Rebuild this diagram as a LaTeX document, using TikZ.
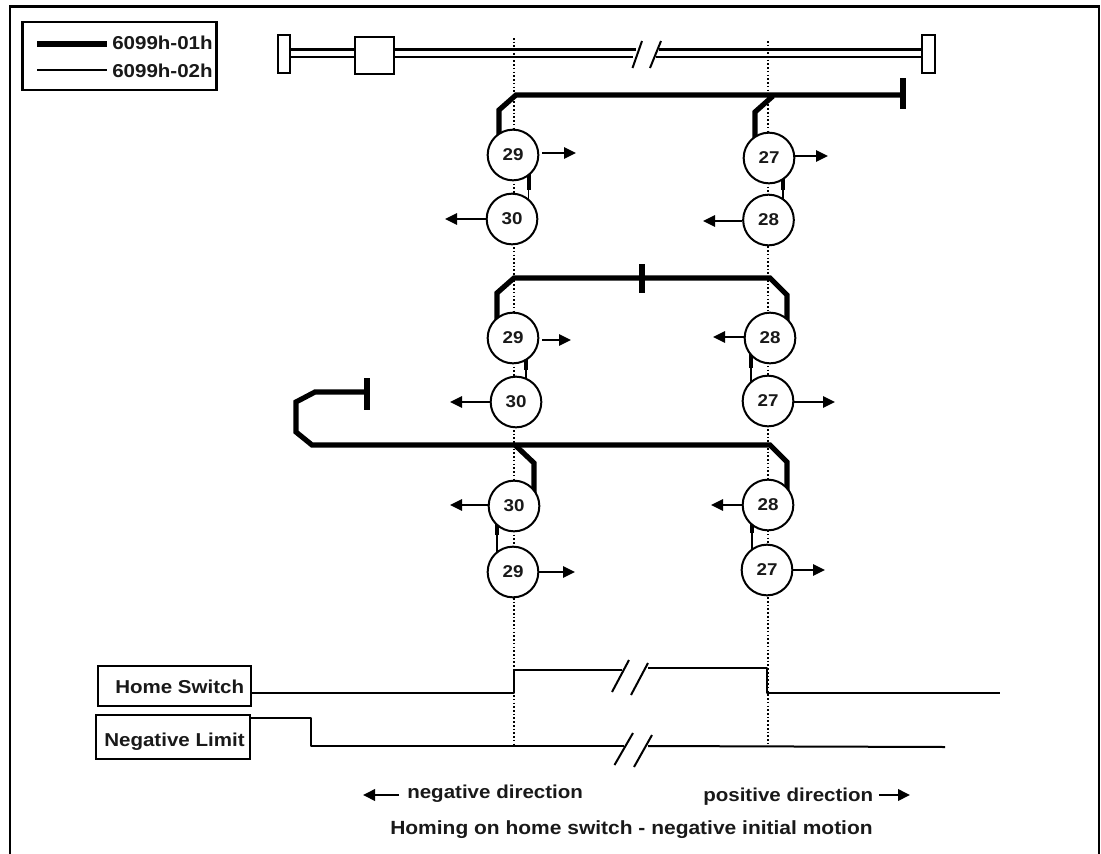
\documentclass[tikz,border=0pt]{standalone}
\usepackage{fontspec}
\setmainfont[FakeStretch=1.1]{Liberation Sans}
\usetikzlibrary{arrows.meta,backgrounds}
\tikzset{
  x=0.75pt,y=-0.75pt,
  every node/.style={font=\bfseries\fontsize{14}{16}\selectfont,text=black!90},
  num/.style={circle,draw,fill=white,line width=1.5pt,minimum size=38pt,inner sep=0pt,font=\bfseries\fontsize{12.8}{14}\selectfont},
  heavy/.style={line width=3.9pt,miter limit=10},
  thin line/.style={line width=1.1pt},
  med/.style={line width=1.5pt,line join=round},
  railline/.style={line width=1.8pt},
  dots/.style={line width=1.1pt,dash pattern=on 1.2pt off 1.6pt},
  arr/.style={line width=1.4pt,-{Triangle[length=9pt,width=8.5pt]}},
  capt arr/.style={line width=1.9pt,-{Triangle[length=9pt,width=8.5pt]}},
  boxy/.style={draw,line width=1.6pt,fill=white,inner sep=0pt},
  lab/.style={anchor=west,inner sep=0pt},
}
\begin{document}
\begin{tikzpicture}
\useasboundingbox (0,0) rectangle (1101,854);
% frame
\coordinate (fbl) at (10,854); \coordinate (ftl) at (10,6.5);
\coordinate (ftr) at (1099,6.5); \coordinate (fbr) at (1099,854);
\draw[line width=1.6pt] (fbl) -- (ftl) -- (ftr) -- (fbr);
% legend
\node[boxy,minimum width=145.5pt,minimum height=50.5pt] (legend) at (119.5,56) {};
\coordinate (la) at (37,44); \coordinate (lb) at (107,44);
\coordinate (lc) at (37,70); \coordinate (ld) at (107,70);
\draw[line width=3.9pt] (la) -- (lb);
\draw[thin line] (lc) -- (ld);
\node[lab] (lt1) at (112,43) {6099h-01h};
\node[lab] (lt2) at (112,71) {6099h-02h};
% rail
\node[boxy,minimum width=9pt,minimum height=28.5pt] (stopL) at (284,54) {};
\node[boxy,minimum width=9.5pt,minimum height=28.5pt] (stopR) at (928.5,54) {};
\node[boxy,minimum width=29pt,minimum height=28pt] (slider) at (374.5,55.5) {};
\coordinate (ra) at (636,49.5); \coordinate (rb) at (633,57);
\coordinate (rc) at (659,49.5); \coordinate (rd) at (656,57);
\draw[railline] (stopL.east |- ra) -- (slider.west |- ra) (slider.east |- ra) -- (ra);
\draw[railline] (stopL.east |- rb) -- (slider.west |- rb) (slider.east |- rb) -- (rb);
\draw[railline] (rc) -- (stopR.west |- rc);
\draw[railline] (rd) -- (stopR.west |- rd);
\coordinate (s1a) at (642,41); \coordinate (s1b) at (632.5,68);
\coordinate (s2a) at (661,41); \coordinate (s2b) at (650,68);
\draw[med] (s1a) -- (s1b); \draw[med] (s2a) -- (s2b);
% circles
\node[num] (a29) at (513,155) {29};
\node[num] (a30) at (512,219) {30};
\node[num] (a27) at (769,158) {27};
\node[num] (a28) at (768.5,220) {28};
\node[num] (b29) at (513,338) {29};
\node[num] (b30) at (516,402) {30};
\node[num] (b28) at (770,338) {28};
\node[num] (b27) at (768,401) {27};
\node[num] (c30) at (514,506) {30};
\node[num] (c29) at (513,572) {29};
\node[num] (c28) at (768,505) {28};
\node[num] (c27) at (767,570) {27};
\begin{scope}[on background layer]
% dotted guides
\coordinate (d1t) at (514,38); \coordinate (d1b) at (514,746);
\coordinate (d2t) at (768,41); \coordinate (d2b) at (768,746);
\draw[dots] (d1t) -- (d1b);
\draw[dots] (d2t) -- (d2b);
% heavy paths, row 1
\coordinate (t1a) at (516,95); \coordinate (t1b) at (499,110);
\coordinate (t1e) at (903,95);
\draw[heavy] (a29.center -| t1b) -- (t1b) -- (t1a) -- (t1e);
\coordinate (t2a) at (773,96); \coordinate (t2b) at (755,112);
\draw[heavy] (a27.center -| t2b) -- (t2b) -- (t2a);
% row 2
\coordinate (u1a) at (514,278); \coordinate (u1b) at (497,293);
\coordinate (u2a) at (770,278); \coordinate (u2b) at (787,295);
\draw[heavy] (b29.center -| u1b) -- (u1b) -- (u1a) -- (u2a) -- (u2b) -- (b28.center -| u2b);
% row 3 with loop
\coordinate (v1) at (367,392); \coordinate (v2) at (315,392);
\coordinate (v3) at (296,402); \coordinate (v4) at (296,432);
\coordinate (v5) at (312,445); \coordinate (v6) at (770,445);
\coordinate (v7) at (787,462); \coordinate (v8) at (515,445);
\coordinate (v9) at (534,463);
\draw[heavy] (v1) -- (v2) -- (v3) -- (v4) -- (v5) -- (v6) -- (v7) -- (c28.center -| v7);
\draw[heavy] (v8) -- (v9) -- (c30.center -| v9);
% short links between paired circles
\coordinate (k1) at (528.5,190); \coordinate (k2) at (783,190);
\coordinate (k3) at (526,370); \coordinate (k4) at (751,368);
\coordinate (k5) at (497,535); \coordinate (k6) at (752,533);
\draw[line width=1.3pt] (a30.center -| k1) -- (a29.center -| k1);
\draw[line width=3pt] (k1) -- (a29.center -| k1);
\draw[line width=1.3pt] (a28.center -| k2) -- (a27.center -| k2);
\draw[line width=3pt] (k2) -- (a27.center -| k2);
\draw[line width=1.3pt] (b30.center -| k3) -- (b29.center -| k3);
\draw[line width=3pt] (k3) -- (b29.center -| k3);
\draw[line width=1.3pt] (b27.center -| k4) -- (b28.center -| k4);
\draw[line width=3pt] (k4) -- (b28.center -| k4);
\draw[line width=1.3pt] (c29.center -| k5) -- (c30.center -| k5);
\draw[line width=3pt] (k5) -- (c30.center -| k5);
\draw[line width=1.3pt] (c27.center -| k6) -- (c28.center -| k6);
\draw[line width=3pt] (k6) -- (c28.center -| k6);
\end{scope}
% end bars
\coordinate (e1a) at (903,78); \coordinate (e1b) at (903,109);
\coordinate (e2a) at (642,264); \coordinate (e2b) at (642,293);
\coordinate (e3a) at (367,378); \coordinate (e3b) at (367,410);
\draw[heavy] (e1a) -- (e1b);
\draw[heavy] (e2a) -- (e2b);
\draw[heavy] (e3a) -- (e3b);
% direction arrows
\coordinate (p1) at (576,153); \draw[arr] ([xshift=2pt]a29.east |- p1) -- (p1);
\coordinate (p2) at (445,219); \draw[arr] (a30.west |- p2) -- (p2);
\coordinate (p3) at (828,156); \draw[arr] (a27.east |- p3) -- (p3);
\coordinate (p4) at (703,221); \draw[arr] (a28.west |- p4) -- (p4);
\coordinate (p5) at (571,340); \draw[arr] ([xshift=2pt]b29.east |- p5) -- (p5);
\coordinate (p6) at (450,402); \draw[arr] (b30.west |- p6) -- (p6);
\coordinate (p7) at (713,337); \draw[arr] (b28.west |- p7) -- (p7);
\coordinate (p8) at (835,402); \draw[arr] (b27.east |- p8) -- (p8);
\coordinate (p9) at (450,505); \draw[arr] (c30.west |- p9) -- (p9);
\coordinate (p10) at (575,572); \draw[arr] (c29.east |- p10) -- (p10);
\coordinate (p11) at (711,505); \draw[arr] (c28.west |- p11) -- (p11);
\coordinate (p12) at (825,570); \draw[arr] (c27.east |- p12) -- (p12);
% signals
\node[boxy,minimum width=114.5pt,minimum height=30pt] (home) at (174.5,686) {};
\node[lab] (homet) at (115,687) {Home Switch};
\node[boxy,minimum width=115.5pt,minimum height=33pt] (neg) at (173,737) {};
\node[lab] (negt) at (104,742) {Negative Limit};
\coordinate (h1) at (514,693); \coordinate (h2) at (514,670);
\coordinate (h3) at (622,670); \coordinate (h4) at (648,668);
\coordinate (h5) at (767,668); \coordinate (h6) at (767,693);
\coordinate (h7) at (1000,693);
\draw[med] (home.east |- h1) -- (h1) -- (h2) -- (h3);
\draw[med] (h4) -- (h5) -- (h6) -- (h7);
\coordinate (hs1a) at (629,660); \coordinate (hs1b) at (612,692);
\coordinate (hs2a) at (648,663); \coordinate (hs2b) at (631,695);
\draw[med] (hs1a) -- (hs1b); \draw[med] (hs2a) -- (hs2b);
\coordinate (n1) at (311,718); \coordinate (n2) at (311,746);
\coordinate (n3) at (624,746); \coordinate (n4) at (648,746);
\coordinate (n5) at (945,747);
\draw[med] (neg.east |- n1) -- (n1) -- (n2) -- (n3);
\draw[med] (n4) -- (n5);
\coordinate (ns1a) at (633,733); \coordinate (ns1b) at (614.5,765);
\coordinate (ns2a) at (652,735); \coordinate (ns2b) at (634,767);
\draw[med] (ns1a) -- (ns1b); \draw[med] (ns2a) -- (ns2b);
% captions
\node[lab] (negdir) at (407,794) {negative direction};
\node[lab] (posdir) at (703,797) {positive direction};
\node[lab,font=\bfseries\fontsize{14.3}{16}\selectfont] (title) at (390,830) {Homing on home switch - negative initial motion};
\coordinate (q1) at (363,795);
\coordinate (q2) at (910,795);
\draw[capt arr] ([xshift=-6pt]negdir.west |- q1) -- (q1);
\draw[capt arr] ([xshift=4pt]posdir.east |- q2) -- (q2);
\end{tikzpicture}
\end{document}
